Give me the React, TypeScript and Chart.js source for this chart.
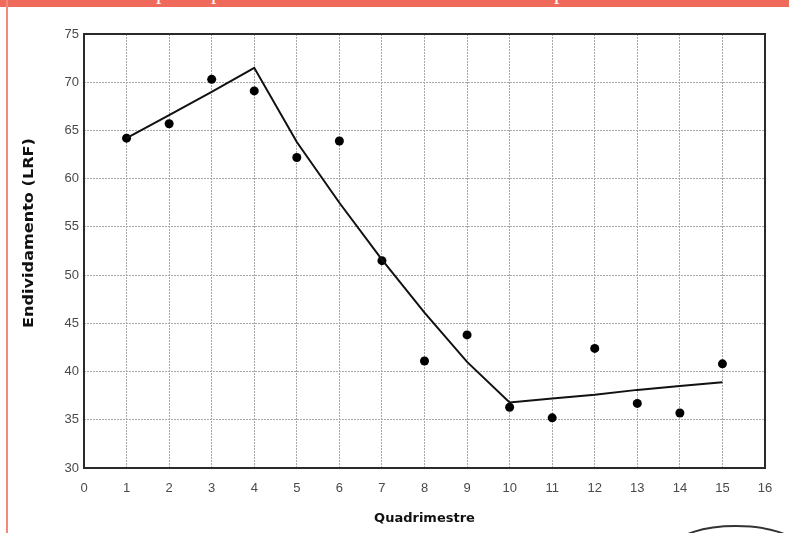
import React, { useEffect, useRef } from "react";
import { Chart, registerables } from "chart.js";

Chart.register(...registerables);

const quadrimestres = [1, 2, 3, 4, 5, 6, 7, 8, 9, 10, 11, 12, 13, 14, 15];
const endividamento = [64.2, 65.7, 70.3, 69.1, 62.2, 63.9, 51.5, 41.1, 43.8, 36.3, 35.2, 42.4, 36.7, 35.7, 40.8];
const tendencia = [64.2, 66.6, 69.0, 71.5, 63.8, 57.5, 51.6, 46.1, 41.0, 36.8, 37.2, 37.6, 38.1, 38.5, 38.9];
const xMin = 0;
const xMax = 16;
const xStep = 1;
const yMin = 30;
const yMax = 75;
const yStep = 5;
const xTitle = "Quadrimestre";
const yTitle = "Endividamento (LRF)";
const bannerLetters = ["p", "p", "p"];

export default function App() {
  const ref = useRef<HTMLCanvasElement>(null);

  useEffect(() => {
    document.body.style.margin = "0";
    const framePlugin = {
      id: "frame",
      afterDraw(chart: any) {
        const { ctx, chartArea } = chart;
        ctx.save();
        ctx.strokeStyle = "#2a2a2a";
        ctx.lineWidth = 2;
        ctx.strokeRect(chartArea.left, chartArea.top, chartArea.right - chartArea.left, chartArea.bottom - chartArea.top);
        // y axis title
        ctx.fillStyle = "#111";
        ctx.font = "bold 14px 'DejaVu Sans'";
        ctx.textAlign = "center";
        ctx.textBaseline = "middle";
        ctx.translate(29, (chartArea.top + chartArea.bottom) / 2 - 18);
        ctx.rotate(-Math.PI / 2);
        ctx.scale(1.15, 1);
        ctx.fillText(yTitle, 0, 0);
        ctx.restore();
      },
    };
    const chart = new Chart(ref.current!, {
      type: "scatter",
      data: {
        datasets: [
          {
            type: "line",
            data: quadrimestres.map((q, i) => ({ x: q, y: tendencia[i] })),
            borderColor: "#111",
            borderWidth: 2,
            pointRadius: 0,
            tension: 0,
            fill: false,
          } as any,
          {
            type: "scatter",
            data: quadrimestres.map((q, i) => ({ x: q, y: endividamento[i] })),
            backgroundColor: "#000",
            borderWidth: 0,
            pointRadius: 4.5,
          },
        ],
      },
      options: {
        animation: false,
        responsive: false,
        devicePixelRatio: 1,
        layout: { padding: { left: 0, right: 24, top: 34, bottom: 0 } },
        plugins: { legend: { display: false }, tooltip: { enabled: false } },
        scales: {
          x: {
            type: "linear",
            min: xMin,
            max: xMax,
            afterFit: (s: any) => {
              s.height = 65;
            },
            ticks: {
              stepSize: xStep,
              padding: 13,
              color: "#4a4a4a",
              font: { family: "'Liberation Sans'", size: 13 },
            },
            grid: { color: "#a8a8a8", lineWidth: 1, drawTicks: false },
            border: { display: false, dash: [2, 1] },
            title: {
              display: true,
              text: xTitle,
              color: "#111",
              font: { family: "'DejaVu Sans'", size: 13, weight: "bold" },
              padding: { top: 0, bottom: 7 },
            },
          },
          y: {
            type: "linear",
            min: yMin,
            max: yMax,
            afterFit: (s: any) => {
              s.width = 84;
            },
            ticks: {
              stepSize: yStep,
              padding: 5,
              color: "#4a4a4a",
              font: { family: "'Liberation Sans'", size: 13 },
            },
            grid: { color: "#a8a8a8", lineWidth: 1, drawTicks: false },
            border: { display: false, dash: [2, 1] },
          },
        },
      },
      plugins: [framePlugin],
    });
    return () => chart.destroy();
  }, []);

  const letterX = [156, 211, 554];

  return (
    <div style={{ position: "fixed", left: 0, top: 0, width: 789, height: 533, background: "#fff", overflow: "hidden" }}>
      <canvas ref={ref} width={789} height={533} style={{ position: "absolute", left: 0, top: 0, width: 789, height: 533 }} />
      <div style={{ position: "absolute", left: 0, top: 0, width: 789, height: 7, background: "#EF6A5A", overflow: "hidden" }}>
        {bannerLetters.map((l, i) => (
          <span
            key={i}
            style={{
              position: "absolute",
              left: letterX[i],
              top: -19,
              color: "#fff",
              fontFamily: "'Liberation Serif'",
              fontSize: 22,
              lineHeight: "22px",
            }}
          >
            {l}
          </span>
        ))}
      </div>
      <div style={{ position: "absolute", left: 6, top: 0, width: 2, height: 533, background: "#F28A7C" }} />
      <svg width={789} height={533} style={{ position: "absolute", left: 0, top: 0, pointerEvents: "none" }}>
        <ellipse cx={736} cy={546} rx={60} ry={20} fill="none" stroke="#333" strokeWidth={2} />
      </svg>
    </div>
  );
}
